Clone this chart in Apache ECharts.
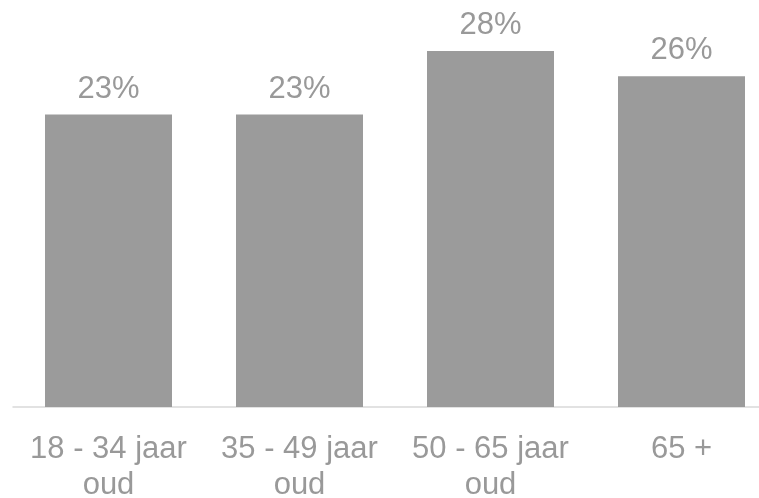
<!DOCTYPE html>
<html>
<head>
<meta charset="utf-8">
<script src="https://cdn.jsdelivr.net/npm/echarts@6/dist/echarts.min.js"></script>
<style>
html,body{margin:0;padding:0;background:#fff;}
#c{width:759px;height:498px;}
</style>
</head>
<body>
<div id="c"></div>
<script>
var categories = ['18 - 34 jaar\noud', '35 - 49 jaar\noud', '50 - 65 jaar\noud', '65 +'];
var values = [23, 23, 28, 26];

var chart = echarts.init(document.getElementById('c'), null, {renderer: 'canvas'});
chart.setOption({
  animation: false,
  grid: {left: 13, top: 0, right: -18, bottom: 91, containLabel: false, outerBoundsMode: 'none'},
  xAxis: {
    type: 'category',
    data: categories,
    axisLine: {show: true, lineStyle: {color: '#d9d9d9', width: 1.5}},
    axisTick: {show: false},
    axisLabel: {
      interval: 0,
      margin: 24,
      color: '#999999',
      fontFamily: 'Liberation Sans, Arial, sans-serif',
      fontSize: 31,
      lineHeight: 36
    }
  },
  yAxis: {
    type: 'value',
    min: 0,
    max: 32,
    show: false,
    splitLine: {show: false}
  },
  series: [{
    type: 'bar',
    data: values,
    barWidth: 127,
    itemStyle: {color: '#9b9b9b'},
    label: {
      show: true,
      position: 'top',
      distance: 10,
      formatter: '{c}%',
      color: '#999999',
      fontFamily: 'Liberation Sans, Arial, sans-serif',
      fontSize: 31
    }
  }]
});
</script>
</body>
</html>
